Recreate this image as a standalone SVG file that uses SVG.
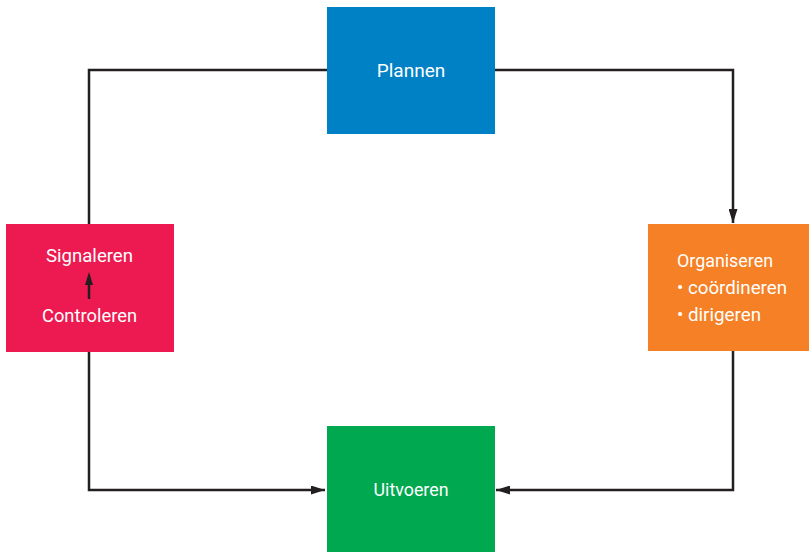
<svg xmlns="http://www.w3.org/2000/svg" width="809" height="552" viewBox="0 0 809 552">
<defs>
<style>
.lbl{font-family:Roboto,"Liberation Sans",sans-serif;font-size:19px;fill:#ffffff}
.c{text-anchor:middle}
.line{fill:none;stroke:#231f20;stroke-width:2.5}
</style>
<marker id="ah" viewBox="0 0 14 9" refX="14" refY="4.5" markerWidth="14" markerHeight="9" markerUnits="userSpaceOnUse" orient="auto">
<path d="M0,0 L14,4.5 L0,9 z" fill="#231f20"/>
</marker>
</defs>
<g id="connectors">
<path class="line" d="M89,224 V70 H327"/>
<path class="line" d="M495,70 H733 V223" marker-end="url(#ah)"/>
<path class="line" d="M733,351 V490 H496" marker-end="url(#ah)"/>
<path class="line" d="M89,352 V490 H325" marker-end="url(#ah)"/>
</g>
<g id="plannen">
<rect x="327" y="7" width="168" height="127" fill="#0081c6"/>
<text class="lbl c" x="411" y="77">Plannen</text>
</g>
<g id="signaleren">
<rect x="6" y="224" width="168" height="128" fill="#ec1a51"/>
<text class="lbl c" x="89.5" y="262" textLength="87" lengthAdjust="spacingAndGlyphs">Signaleren</text>
<text class="lbl c" x="89.5" y="322" textLength="95" lengthAdjust="spacingAndGlyphs">Controleren</text>
<path class="line" d="M89,299 V284"/>
<path d="M85,285 L89,272 L93,285 z" fill="#231f20"/>
</g>
<g id="organiseren">
<rect x="648" y="224" width="161" height="127" fill="#f58025"/>
<text class="lbl" x="677" y="267" textLength="96" lengthAdjust="spacingAndGlyphs">Organiseren</text>
<text class="lbl" x="677" y="294" textLength="110" lengthAdjust="spacingAndGlyphs">• coördineren</text>
<text class="lbl" x="677" y="321" textLength="84" lengthAdjust="spacingAndGlyphs">• dirigeren</text>
</g>
<g id="uitvoeren">
<rect x="327" y="426" width="168" height="126" fill="#00a84f"/>
<text class="lbl c" x="411" y="496" textLength="75" lengthAdjust="spacingAndGlyphs">Uitvoeren</text>
</g>
</svg>
